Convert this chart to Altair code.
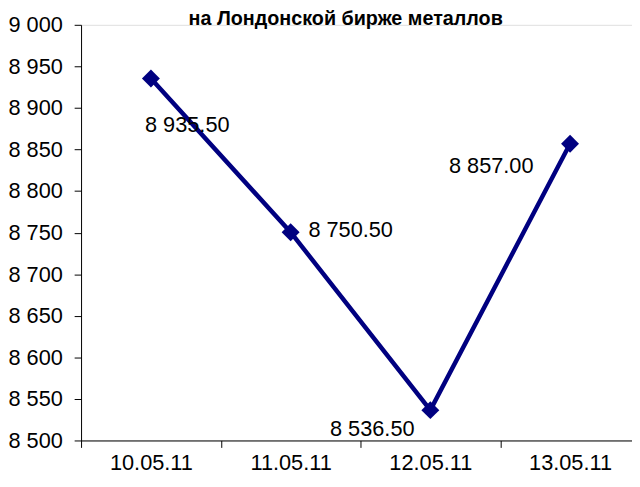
import json
import altair as alt
import pandas as pd

dates = ["10.05.11", "11.05.11", "12.05.11", "13.05.11"]
prices = [8935.50, 8750.50, 8536.50, 8857.00]
y_ticks = [8500, 8550, 8600, 8650, 8700, 8750, 8800, 8850, 8900, 8950, 9000]
title_text = "на Лондонской бирже металлов"

# category slot centres (0.5, 1.5, ...) and slot boundaries (0, 1, ...)
pos = [i + 0.5 for i in range(len(dates))]
x_values = sorted([float(i) for i in range(len(dates) + 1)] + pos)

df = pd.DataFrame({"date": dates, "pos": pos, "price": prices})

FONT = "Liberation Sans"
NAVY = "#000080"

x_enc = alt.X(
    "pos:Q",
    title=None,
    scale=alt.Scale(domain=[0, len(dates)], nice=False, zero=False),
    axis=alt.Axis(
        values=x_values,
        labelExpr=f"datum.value % 1 == 0 ? '' : {json.dumps(dates)}[floor(datum.value)]",
        tickOpacity={"condition": {"test": "datum.value % 1 != 0", "value": 0}, "value": 1},
        labelAngle=0,
        tickSize=7,
        tickColor="black",
        domainColor="black",
        labelFont=FONT,
        labelFontSize=22,
        labelColor="black",
        labelBaseline="alphabetic",
        labelPadding=22,
        labelFlush=False,
        labelOverlap=False,
        grid=False,
    ),
)
y_enc = alt.Y(
    "price:Q",
    title=None,
    scale=alt.Scale(domain=[8500, 9000], nice=False, zero=False),
    axis=alt.Axis(
        values=y_ticks,
        labelExpr="replace(format(datum.value, ','), ',', ' ')",
        tickSize=7,
        tickColor="black",
        domainColor="black",
        labelFont=FONT,
        labelFontSize=22,
        labelColor="black",
        labelPadding=12,
        grid=False,
    ),
)

base = alt.Chart(df).encode(x=x_enc, y=y_enc)

line = base.mark_line(color=NAVY, strokeWidth=4.5)
points = base.mark_point(shape="diamond", filled=True, size=330, color=NAVY, opacity=1)

label_expr = "replace(format(datum.price, ',.2f'), ',', ' ')"

def label(d, align, dx, dy):
    return (
        base.transform_filter(alt.datum.date == d)
        .transform_calculate(lbl=label_expr)
        .mark_text(align=align, baseline="middle", dx=dx, dy=dy,
                   font=FONT, fontSize=22, color="black")
        .encode(text="lbl:N")
    )

labels = [
    label(dates[0], "left", -6, 47),
    label(dates[1], "left", 18, -2),
    label(dates[2], "right", -16, 19),
    label(dates[3], "right", -37, 23),
]

title = alt.Chart(pd.DataFrame({"t": [title_text]})).mark_text(
    font=FONT, fontSize=20, fontWeight="bold", color="black",
    align="center", baseline="alphabetic"
).encode(
    text="t:N",
    x=alt.value(350 - 82),
    y=alt.value(0),
)

# the plot runs 8px past the right edge of the picture, as in the reference
chart = alt.layer(line, points, *labels, title).properties(
    width=566,
    height=421,
    autosize=alt.AutoSizeParams(type="none"),
    padding={"left": 74, "top": 14, "right": -8, "bottom": 36},
).configure_view(stroke=None).configure(background="white")

chart.save("out.html", embed_options={"renderer": "svg", "actions": False})
